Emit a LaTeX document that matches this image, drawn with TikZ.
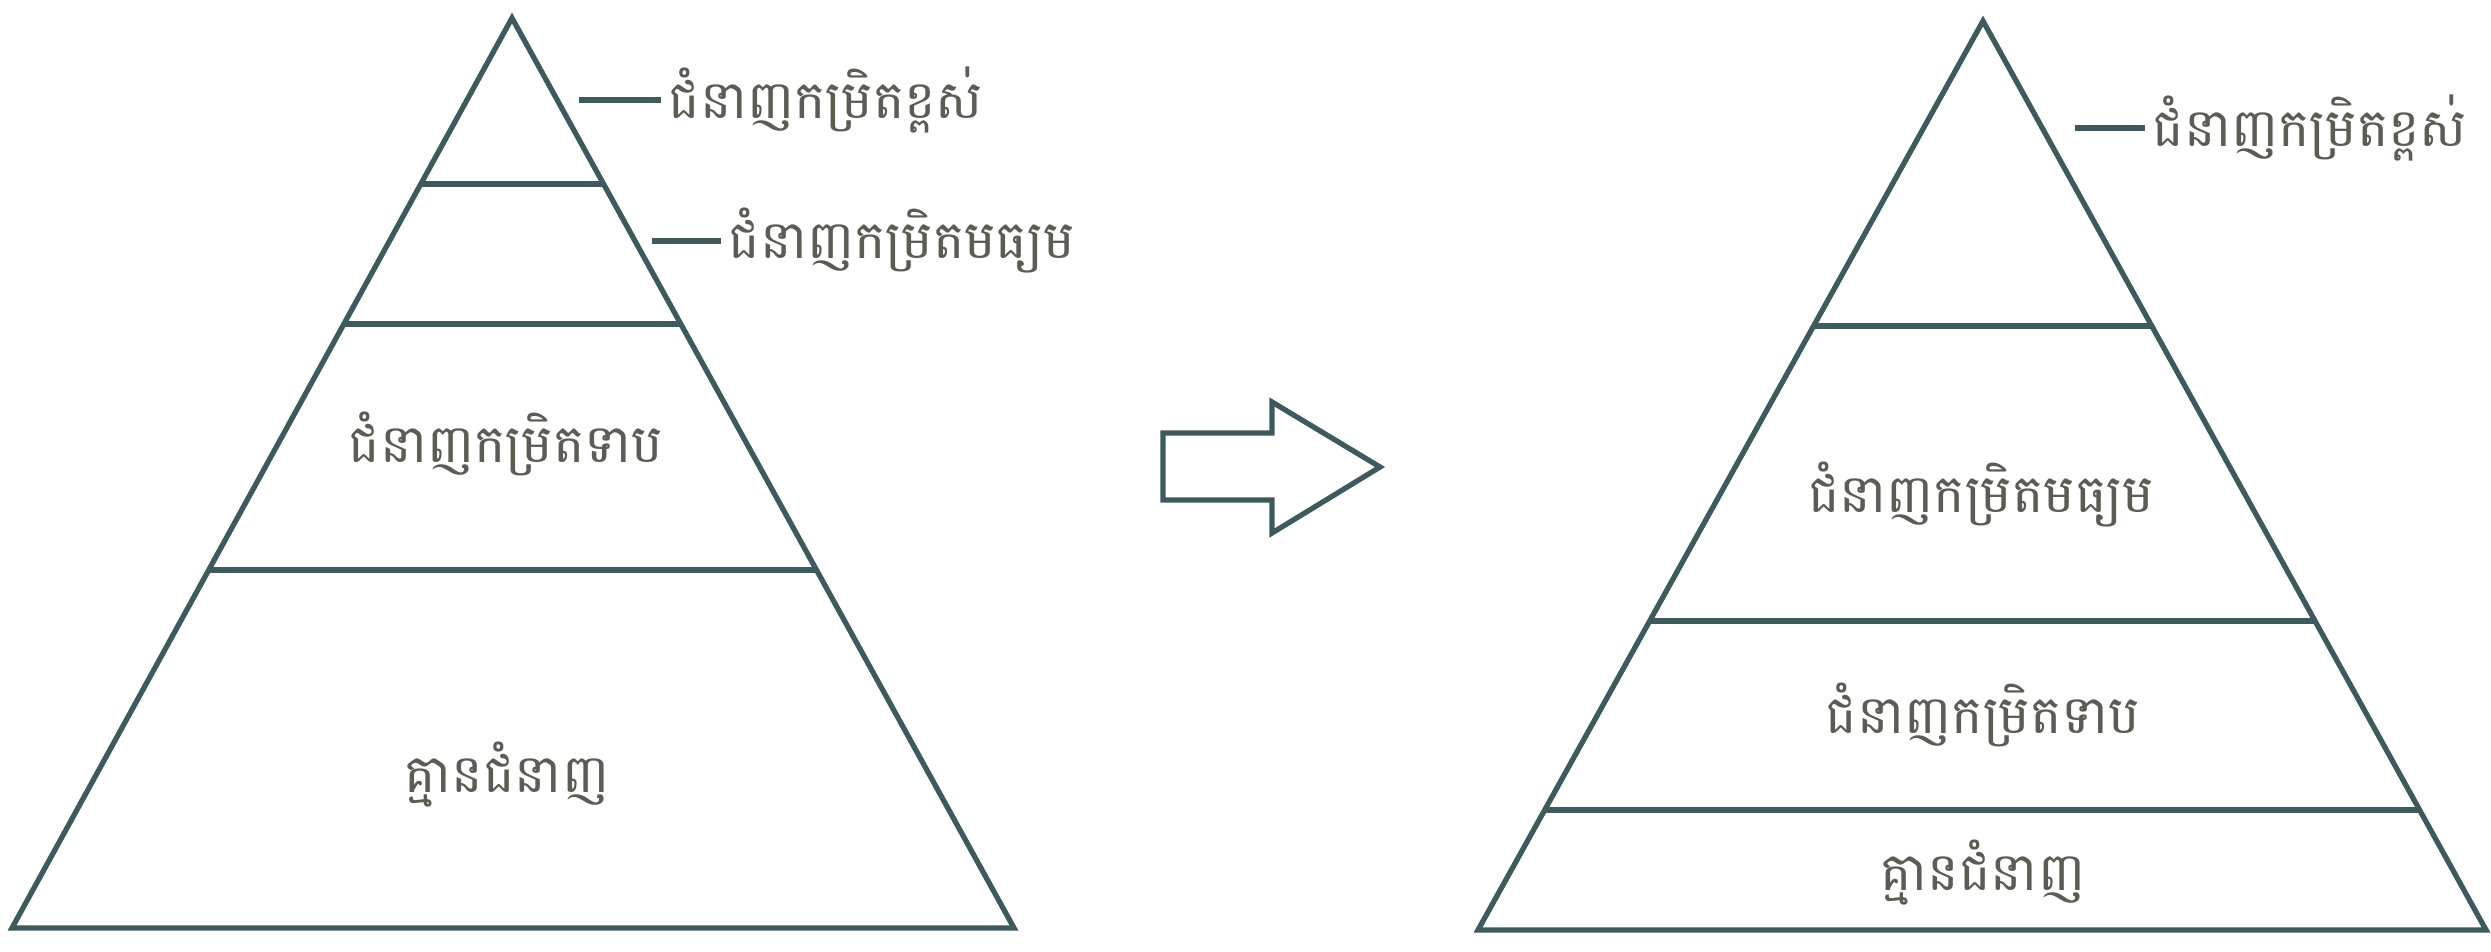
\documentclass[tikz,border=0pt]{standalone}
\usepackage{fontspec}
\usetikzlibrary{calc}
\newfontfamily\khmer[Script=Khmer]{Battambang}
\definecolor{lineC}{HTML}{3E5A5C}
\definecolor{textC}{HTML}{5C5C55}
\tikzset{
  pyr/.style={draw=lineC, line width=1.5pt, line join=miter},
  tier/.style={draw=lineC, line width=1.5pt},
  lbl/.style={font=\khmer\fontsize{15}{18}\selectfont, text=textC, inner sep=2pt},
  leader/.style={draw=lineC, line width=1.5pt},
}
\begin{document}
\begin{tikzpicture}[x=0.01cm,y=-0.01cm]
\useasboundingbox (0,0) rectangle (2491,951);
% left pyramid
\coordinate (LA) at (512,18);
\coordinate (LL) at (12,928);
\coordinate (LR) at (1014,928);
\draw[pyr] (LA) -- (LL) -- (LR) -- cycle;
\foreach \y in {184,324,570} {
  \draw[tier] ($(LA)!{(\y-18)/910}!(LL)$) -- ($(LA)!{(\y-18)/910}!(LR)$);
}
\node[lbl] (l3) at (506,444) {ជំនាញកម្រិតទាប};
\node[lbl] (l4) at (507,775) {គ្មានជំនាញ};
\node[lbl, anchor=west] (l1) at (661,100) {ជំនាញកម្រិតខ្ពស់};
\node[lbl, anchor=west] (l2) at (721,241) {ជំនាញកម្រិតមធ្យម};
\coordinate (d1) at (579,100);
\coordinate (d2) at (652,241);
\draw[leader] (d1) -- (l1.west);
\draw[leader] (d2) -- (l2.west);
% arrow
\draw[pyr] (1163,433) -- (1272,433) -- (1272,402) -- (1380,467) -- (1272,533) -- (1272,500) -- (1163,500) -- cycle;
% right pyramid
\coordinate (RA) at (1983,21);
\coordinate (RL) at (1478,930);
\coordinate (RR) at (2486,930);
\draw[pyr] (RA) -- (RL) -- (RR) -- cycle;
\foreach \y in {326,621,810} {
  \draw[tier] ($(RA)!{(\y-21)/909}!(RL)$) -- ($(RA)!{(\y-21)/909}!(RR)$);
}
\node[lbl, anchor=west] (r1) at (2145,128) {ជំនាញកម្រិតខ្ពស់};
\coordinate (e1) at (2075,128);
\draw[leader] (e1) -- (r1.west);
\node[lbl] (r2) at (1981,495) {ជំនាញកម្រិតមធ្យម};
\node[lbl] (r3) at (1983,715) {ជំនាញកម្រិតទាប};
\node[lbl] (r4) at (1983,873) {គ្មានជំនាញ};
\end{tikzpicture}
\end{document}
